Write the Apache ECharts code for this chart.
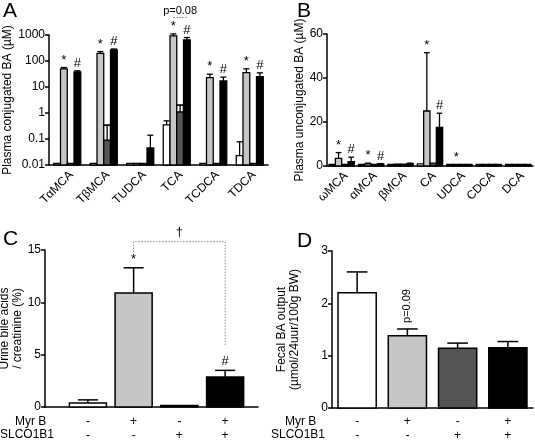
<!DOCTYPE html>
<html><head><meta charset="utf-8">
<script src="https://cdn.jsdelivr.net/npm/echarts@6/dist/echarts.min.js"></script>
<style>html,body{margin:0;padding:0;background:#fff}#c{width:535px;height:442px}</style>
</head><body><div id="c"></div>
<script>
// ---------- Panel A: plasma conjugated BA (log scale) ----------
const catsA = ['TαMCA', 'TβMCA', 'TUDCA', 'TCA', 'TCDCA', 'TDCA'];
const ticksA = ['0.01', '0.1', '1', '10', '100', '1000'];
const A_ctrl      = [0.0115, 0.0115, 0.0115, 0.35, 0.0115, 0.023];
const A_ctrl_top  = [null, null, null, 0.5, null, 0.078];
const A_myrb      = [50, 195, 0.0115, 920, 23, 36];
const A_myrb_top  = [56, 230, null, 1100, 31, 50];
const A_slco      = [0.0115, 0.09, 0.0115, 1.1, 0.0115, 0.0115];
const A_slco_top  = [null, 0.34, null, 2.0, null, null];
const A_both      = [38, 270, 0.045, 650, 17, 25];
const A_both_top  = [42, 290, 0.14, 800, 24, 35];
const A_sig_myrb  = ['*', '*', '', '*', '*', '*'];
const A_sig_both  = ['#', '#', '', '#', '#', '#'];
const A_pNote     = { cat: 3, level: 4700, text: 'p=0.08' };

// ---------- Panel B: plasma unconjugated BA ----------
const catsB = ['ωMCA', 'αMCA', 'βMCA', 'CA', 'UDCA', 'CDCA', 'DCA'];
const B_ctrl      = [0.5, 0.3, 0.3, 1.0, 0.3, 0.2, 0.2];
const B_myrb      = [3.5, 1.0, 0.6, 25, 0.4, 0.3, 0.2];
const B_myrb_top  = [6.1, 1.3, 0.8, 51.5, 0.5, 0.4, 0.3];
const B_slco      = [0.4, 0.4, 0.8, 1.3, 0.3, 0.3, 0.2];
const B_both      = [2.0, 0.9, 1.1, 17.5, 0.3, 0.3, 0.2];
const B_both_top  = [4.0, 1.1, 1.3, 24, 0.4, 0.4, 0.3];
const B_sig_myrb  = ['*', '*', '', '*', '*', '', ''];
const B_sig_both  = ['#', '#', '', '#', '', '', ''];

// ---------- Panels C & D ----------
const groupsCD = ['Control', 'Myr B', 'SLCO1B1', 'Myr B + SLCO1B1'];
const rowMyrB  = ['-', '+', '-', '+'];
const rowSLCO  = ['-', '-', '+', '+'];
const C_vals   = [0.38, 10.9, 0.08, 2.87];
const C_tops   = [0.68, 13.3, null, 3.5];
const C_sigs   = ['', '*', '', '#'];
const C_bracket = { from: 1, to: 3, top: 15.8, leftEnd: 14.8, rightEnd: 5.9, text: '†' };
const D_vals   = [2.2, 1.38, 1.14, 1.15];
const D_tops   = [2.6, 1.51, 1.24, 1.27];
const D_sigs   = ['', 'p=0.09', '', ''];

const COLORS = ['#ffffff', '#c6c6c6', '#555555', '#000000'];
const FONT = "'Liberation Sans', Arial, sans-serif";

function barSeries(o) {
  return {
    type: 'custom', xAxisIndex: o.xi, yAxisIndex: o.yi, z: 3, clip: false,
    data: o.means.map((m, i) => [i, m, (o.tops && o.tops[i] != null) ? o.tops[i] : m]),
    renderItem(params, api) {
      const i = api.value(0), m = api.value(1), t = api.value(2);
      const pb = api.coord([i, o.base]), pm = api.coord([i, m]), pt = api.coord([i, t]);
      const cw = api.size([1, 0])[0];
      const bw = cw * (1 - o.gap) / o.n;
      const x = pb[0] + (o.k - (o.n - 1) / 2) * bw;
      const col = Array.isArray(o.colors) ? o.colors[i] : o.colors;
      const ch = [];
      const h = Math.max(pb[1] - pm[1], 1.5);
      ch.push({ type: 'rect', shape: { x: x - bw / 2, y: pb[1] - h, width: bw, height: h },
        style: { fill: col, stroke: '#000', lineWidth: o.lw } });
      if (t > m) {
        if (o.box) ch.push({ type: 'rect', shape: { x: x - bw / 2, y: pt[1], width: bw, height: pm[1] - pt[1] },
          style: { fill: '#fff', stroke: '#000', lineWidth: o.lw } });
        ch.push({ type: 'line', shape: { x1: x, y1: pm[1], x2: x, y2: pt[1] }, style: { stroke: '#000', lineWidth: o.lw } });
        const cap = bw * o.capRatio;
        ch.push({ type: 'line', shape: { x1: x - cap / 2, y1: pt[1], x2: x + cap / 2, y2: pt[1] }, style: { stroke: '#000', lineWidth: o.lw } });
      }
      if (o.sigs && o.sigs[i]) {
        const yTop = Math.min(pm[1], pt[1]) - o.sigGap;
        if (o.sigRotate) {
          ch.push({ type: 'text', x: x, y: yTop, rotation: Math.PI / 2,
            style: { text: o.sigs[i], font: o.sigFont, fill: '#000', align: 'left', verticalAlign: 'middle' } });
        } else {
          ch.push({ type: 'text', x: x, y: yTop,
            style: { text: o.sigs[i], font: o.sigFont, fill: '#000', align: 'center', verticalAlign: 'bottom' } });
        }
      }
      return { type: 'group', children: ch };
    }
  };
}

const gapA = 0.26, gapB = 0.14, gapC = 0.19, gapD = 0.24;
const series = [];
[[A_ctrl, A_ctrl_top, null], [A_myrb, A_myrb_top, A_sig_myrb], [A_slco, A_slco_top, null], [A_both, A_both_top, A_sig_both]]
  .forEach((s, k) => series.push(barSeries({ xi: 0, yi: 0, k, n: 4, gap: gapA, base: 0.01, means: s[0], tops: s[1], sigs: s[2],
    colors: COLORS[k], lw: 1.3, capRatio: 0.9, box: k === 2, sigGap: 1, sigFont: '13px ' + FONT })));
[[B_ctrl, null, null], [B_myrb, B_myrb_top, B_sig_myrb], [B_slco, null, null], [B_both, B_both_top, B_sig_both]]
  .forEach((s, k) => series.push(barSeries({ xi: 1, yi: 1, k, n: 4, gap: gapB, base: 0, means: s[0], tops: s[1], sigs: s[2],
    colors: COLORS[k], lw: 1.3, capRatio: 0.9, box: false, sigGap: 1, sigFont: '13px ' + FONT })));
series.push(barSeries({ xi: 3, yi: 3, k: 0, n: 1, gap: gapC, base: 0, means: C_vals, tops: C_tops, sigs: C_sigs,
  colors: COLORS, lw: 1.5, capRatio: 0.54, box: false, sigGap: 2, sigFont: '13px ' + FONT }));
series.push(barSeries({ xi: 4, yi: 4, k: 0, n: 1, gap: gapD, base: 0, means: D_vals, tops: D_tops, sigs: D_sigs,
  colors: COLORS, lw: 1.5, capRatio: 0.54, box: false, sigGap: 6, sigRotate: true, sigFont: '11px ' + FONT }));

// p=0.08 note in panel A
series.push({
  type: 'custom', xAxisIndex: 0, yAxisIndex: 0, z: 4, clip: false,
  data: [[A_pNote.cat, A_pNote.level]],
  renderItem(params, api) {
    const p = api.coord([api.value(0), api.value(1)]);
    const bw = api.size([1, 0])[0] * (1 - gapA) / 4;
    const x1 = p[0] + (1 - 1.5) * bw, x2 = p[0] + (3 - 1.5) * bw;
    return { type: 'group', children: [
      { type: 'line', shape: { x1, y1: p[1], x2, y2: p[1] }, style: { stroke: '#777', lineWidth: 1, lineDash: [1.5, 1.5] } },
      { type: 'text', x: (x1 + x2) / 2, y: p[1] - 1, style: { text: A_pNote.text, font: '11px ' + FONT, fill: '#000', align: 'center', verticalAlign: 'bottom' } }
    ]};
  }
});
// bracket in panel C
series.push({
  type: 'custom', xAxisIndex: 3, yAxisIndex: 3, z: 4, clip: false,
  data: [[C_bracket.from, C_bracket.to, C_bracket.top, C_bracket.leftEnd, C_bracket.rightEnd]],
  renderItem(params, api) {
    const a = api.coord([api.value(0), api.value(2)]);
    const b = api.coord([api.value(1), api.value(2)]);
    const l = api.coord([api.value(0), api.value(3)]);
    const r = api.coord([api.value(1), api.value(4)]);
    const st = { stroke: '#888', lineWidth: 1, lineDash: [1.5, 1.5], fill: null };
    return { type: 'group', children: [
      { type: 'polyline', shape: { points: [[l[0], l[1]], [a[0], a[1]], [b[0], b[1]], [r[0], r[1]]] }, style: st },
      { type: 'text', x: (a[0] + b[0]) / 2, y: a[1] - 3, style: { text: C_bracket.text, font: '13px ' + FONT, fill: '#000', align: 'center', verticalAlign: 'bottom' } }
    ]};
  }
});

const lineStyle = { color: '#000', width: 1.5 };
function yAx(gi, o) {
  return Object.assign({
    gridIndex: gi, type: 'value',
    axisLine: { show: true, lineStyle },
    axisTick: { show: true, length: 4, lineStyle },
    axisLabel: { color: '#000', fontSize: 12, fontFamily: FONT, margin: 4 },
    splitLine: { show: false },
    nameLocation: 'middle', nameRotate: 90,
    nameTextStyle: { color: '#000', fontSize: 12, fontFamily: FONT, lineHeight: 13 }
  }, o);
}
function rowLabel(i) { return rowMyrB[i] + '\n' + rowSLCO[i]; }

const baseGraphics = [
  { id: 'pA', type: 'text', left: 3, top: 1, style: { text: 'A', font: '21px ' + FONT, fill: '#000' } },
  { id: 'pB', type: 'text', left: 297, top: 1, style: { text: 'B', font: '21px ' + FONT, fill: '#000' } },
  { id: 'pC', type: 'text', left: 3, top: 229, style: { text: 'C', font: '21px ' + FONT, fill: '#000' } },
  { id: 'pD', type: 'text', left: 297, top: 231, style: { text: 'D', font: '21px ' + FONT, fill: '#000' } },
  { id: 'rC1', type: 'text', left: 15, top: 416, style: { text: 'Myr B', font: '12px ' + FONT, fill: '#000' } },
  { id: 'rC2', type: 'text', left: 0, top: 429, style: { text: 'SLCO1B1', font: '12px ' + FONT, fill: '#000' } },
  { id: 'rD1', type: 'text', left: 285, top: 416, style: { text: 'Myr B', font: '12px ' + FONT, fill: '#000' } },
  { id: 'rD2', type: 'text', left: 271, top: 429, style: { text: 'SLCO1B1', font: '12px ' + FONT, fill: '#000' } }
];

const option = {
  animation: false,
  grid: [
    { left: 49, top: 35, width: 219, height: 130, outerBoundsMode: 'none' },
    { left: 327, top: 34, width: 206, height: 132, outerBoundsMode: 'none' },
    { left: 45, top: 250, width: 213, height: 157, outerBoundsMode: 'none' },
    { left: 65, top: 250, width: 183, height: 157, outerBoundsMode: 'none' },
    { left: 332, top: 251, width: 201, height: 157, outerBoundsMode: 'none' }
  ],
  xAxis: [
    { gridIndex: 0, type: 'category', data: catsA,
      axisLine: { lineStyle }, axisTick: { alignWithLabel: true, length: 4, lineStyle },
      axisLabel: { show: false } },
    { gridIndex: 1, type: 'category', data: catsB,
      axisLine: { lineStyle }, axisTick: { alignWithLabel: true, length: 4, lineStyle },
      axisLabel: { show: false } },
    { gridIndex: 2, type: 'value', min: 0, max: 1, axisLine: { show: true, lineStyle },
      axisTick: { show: false }, axisLabel: { show: false }, splitLine: { show: false } },
    { gridIndex: 3, type: 'category', data: groupsCD, axisLine: { show: false }, axisTick: { show: false },
      axisLabel: { color: '#000', fontSize: 12, fontFamily: FONT, lineHeight: 14, margin: 8, interval: 0,
        formatter: (v, i) => rowLabel(i) } },
    { gridIndex: 4, type: 'category', data: groupsCD, axisLine: { lineStyle }, axisTick: { show: false },
      axisLabel: { color: '#000', fontSize: 12, fontFamily: FONT, lineHeight: 14, margin: 7, interval: 0,
        formatter: (v, i) => rowLabel(i) } }
  ],
  yAxis: [
    yAx(0, { type: 'log', logBase: 10, min: 0.01, max: 1000, name: 'Plasma conjugated BA (µM)', nameGap: 24,
      axisLabel: { color: '#000', fontSize: 12, fontFamily: FONT, margin: 4,
        formatter: v => ticksA.find(t => Math.abs(Math.log10(+t) - Math.log10(v)) < 1e-6) || '' } }),
    yAx(1, { min: 0, max: 60, interval: 20, name: 'Plasma unconjugated BA (µM)', nameGap: 11 }),
    yAx(2, { min: 0, max: 15, interval: 5, name: 'Urine bile acids\n/ creatinine (%)', nameGap: 6 }),
    yAx(3, { min: 0, max: 15, interval: 5, show: false }),
    yAx(4, { min: 0, max: 3, interval: 1, name: 'Fecal BA output\n(µmol/24uur/100g BW)', nameGap: 31 })
  ],
  graphic: baseGraphics,
  series
};
const chart = echarts.init(document.getElementById('c'), null, { renderer: 'canvas' });
chart.setOption(option);

// rotated (45°) category labels, placed at the axis ticks computed by the chart
function catLabels(gi, cats, base, prefix) {
  return cats.map((c, i) => {
    const p = chart.convertToPixel({ gridIndex: gi }, [i, base]);
    return { id: prefix + i, type: 'text', x: p[0] + 4, y: p[1] + 8, rotation: Math.PI / 4,
      style: { text: c, font: '12px ' + FONT, fill: '#000', align: 'right', verticalAlign: 'middle' } };
  });
}
chart.setOption({ graphic: baseGraphics.concat(catLabels(0, catsA, 0.01, 'la'), catLabels(1, catsB, 0, 'lb')) });
</script>
</body></html>
